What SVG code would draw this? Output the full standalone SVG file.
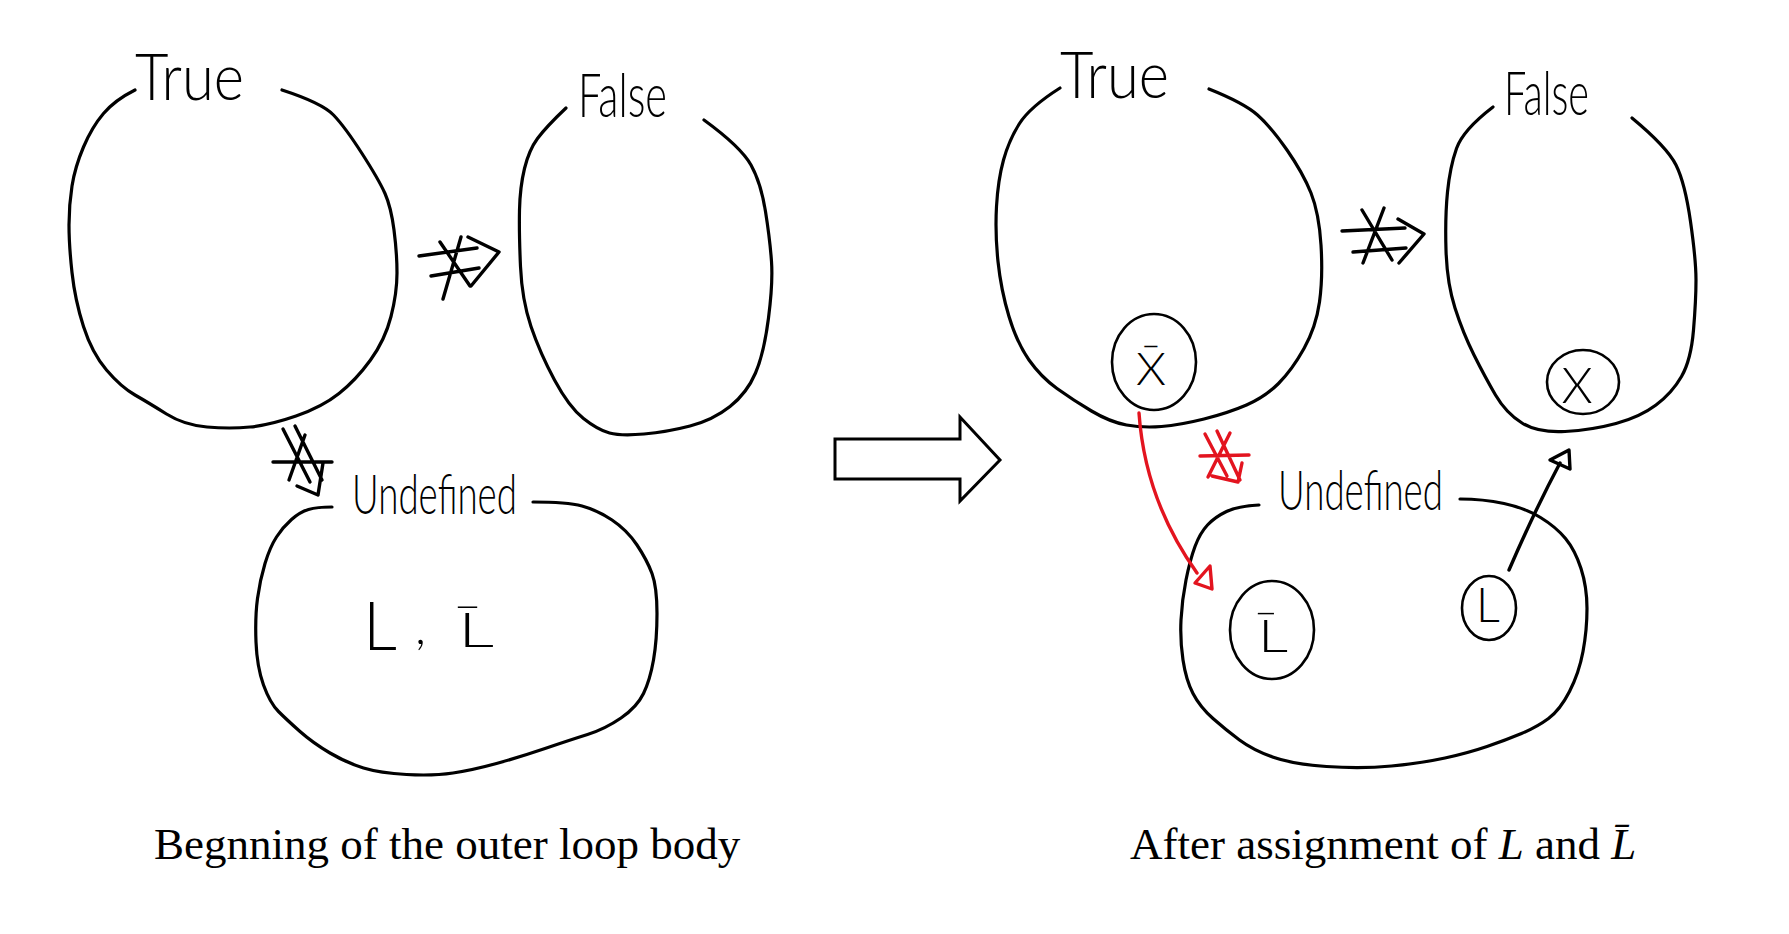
<svg xmlns="http://www.w3.org/2000/svg" width="1789" height="934" viewBox="0 0 1789 934">
<style>
.blob{fill:none;stroke:#000;stroke-width:3.2;stroke-linecap:round;stroke-linejoin:round}
.sym{fill:none;stroke:#000;stroke-width:3.4;stroke-linecap:round;stroke-linejoin:round}
.red{stroke:#e3141f}
.thin{stroke-width:2.6}
.hand{font-family:Lato,"Noto Sans","DejaVu Sans",sans-serif;font-weight:300;fill:#000}
.cap{font-family:"Liberation Serif","Times New Roman",serif;font-size:45px;fill:#000}
</style>
<rect width="1789" height="934" fill="#fff"/>

<g id="left-true">
<path class="blob" d="M135,90 Q115,100 103.5,113.5 Q92,127 83.5,147 Q75,167 72,186 Q69,205 69,225 Q69,245 72,272.5 Q75,300 83.5,326.5 Q92,353 106.5,370 Q121,387 135,395 Q149,403 166.5,414 Q184,425 207,427 Q230,429 250,427 Q270,425 296,416 Q322,407 339,393.5 Q356,380 370.5,360 Q385,340 391,316.5 Q397,293 397,273 Q397,253 394,230 Q391,207 385,193.5 Q379,180 362,153.5 Q345,127 333.5,115 Q322,103 282,90"/>
<text class="hand" x="135" y="100" font-size="66" textLength="109" lengthAdjust="spacingAndGlyphs">True</text>
</g>

<g id="left-false">
<path class="blob" d="M566,108 Q546,127 537.5,138.5 Q529,150 524.5,168.5 Q520,187 519.5,210 Q519,233 520.5,266.5 Q522,300 531,326.5 Q540,353 554.5,380 Q569,407 583.5,418.5 Q598,430 609.5,433 Q621,436 644,434 Q667,432 690,426 Q713,420 730,406.5 Q747,393 755.5,373 Q764,353 768.5,318 Q773,283 771.5,261.5 Q770,240 765.5,211.5 Q761,183 751,165 Q741,147 704,120"/>
<text class="hand" x="578" y="117" font-size="62" textLength="89" lengthAdjust="spacingAndGlyphs">False</text>
</g>

<g id="left-undefined">
<path class="blob" d="M332,507 Q317,507 308.5,509.5 Q300,512 291.5,519.5 Q283,527 276.5,537 Q270,547 265,563.5 Q260,580 257.5,598.5 Q255,617 256,642 Q257,667 263.5,685 Q270,703 278.5,711.5 Q287,720 300,731.5 Q313,743 330,753 Q347,763 363.5,768 Q380,773 406.5,774.5 Q433,776 453,773 Q473,770 496.5,763.5 Q520,757 545,748.5 Q570,740 587.5,734.5 Q605,729 621,718 Q637,707 643.5,693.5 Q650,680 653.5,660 Q657,640 657,613.5 Q657,587 652,573.5 Q647,560 637,545 Q627,530 612,520 Q597,510 582,506 Q567,502 533,502"/>
<text class="hand" x="352" y="514" font-size="56" textLength="165" lengthAdjust="spacingAndGlyphs">Undefined</text>
<text class="hand"><tspan x="363" y="650" font-size="67">L</tspan> <tspan x="415" y="644" font-size="50">,</tspan></text>
<text class="hand" x="458" y="647" font-size="48" textLength="36" lengthAdjust="spacingAndGlyphs">L̄</text>
</g>

<g id="right-true">
<path class="blob" d="M1060,88 Q1030,107 1019.5,123.5 Q1009,140 1003.5,160 Q998,180 996.5,206.5 Q995,233 998,261.5 Q1001,290 1009,316.5 Q1017,343 1029,360 Q1041,377 1057,388.5 Q1073,400 1091.5,411 Q1110,422 1126.5,425 Q1143,428 1161.5,426.5 Q1180,425 1204,419 Q1228,413 1246.5,405 Q1265,397 1278.5,383.5 Q1292,370 1304,348.5 Q1316,327 1319.5,302 Q1323,277 1321,245 Q1319,213 1311,193 Q1303,173 1287,150 Q1271,127 1257.5,115 Q1244,103 1209,89"/>
<text class="hand" x="1060" y="98" font-size="66" textLength="109" lengthAdjust="spacingAndGlyphs">True</text>
<g id="right-true-xbar">
<ellipse class="blob thin" cx="1154" cy="362" rx="42" ry="48"/>
<text class="hand" x="1136" y="385" font-size="45" textLength="30" lengthAdjust="spacingAndGlyphs">X̄</text>
</g>
</g>

<g id="right-false">
<path class="blob" d="M1493,107 Q1463,130 1456.5,148.5 Q1450,167 1447.5,192 Q1445,217 1446,250 Q1447,283 1455,308 Q1463,333 1474,355 Q1485,377 1495.5,395 Q1506,413 1522,423 Q1538,433 1565,431.5 Q1592,430 1616,423.5 Q1640,417 1656,405 Q1672,393 1681.5,376.5 Q1691,360 1693.5,330 Q1696,300 1696,280 Q1696,260 1690.5,221.5 Q1685,183 1676,165 Q1667,147 1632,118"/>
<text class="hand" x="1504" y="115" font-size="62" textLength="85" lengthAdjust="spacingAndGlyphs">False</text>
<g id="right-false-x">
<ellipse class="blob thin" cx="1583" cy="382" rx="36" ry="32"/>
<text class="hand" x="1577" y="403" font-size="50" text-anchor="middle">X</text>
</g>
</g>

<g id="right-undefined">
<path class="blob" d="M1259,505 Q1238,506 1226.5,511.5 Q1215,517 1207.5,525 Q1200,533 1195,546.5 Q1190,560 1186,580 Q1182,600 1181,620 Q1180,640 1183,660 Q1186,680 1193,693.5 Q1200,707 1213,718.5 Q1226,730 1239.5,740 Q1253,750 1272.5,757 Q1292,764 1326.5,766.5 Q1361,769 1391.5,766 Q1422,763 1445,758 Q1468,753 1487,746.5 Q1506,740 1521.5,733.5 Q1537,727 1548.5,718.5 Q1560,710 1569.5,691.5 Q1579,673 1583,651.5 Q1587,630 1587,608.5 Q1587,587 1581,568.5 Q1575,550 1565.5,538.5 Q1556,527 1540.5,517.5 Q1525,508 1504,503.5 Q1483,499 1460,499"/>
<text class="hand" x="1278" y="510" font-size="56" textLength="165" lengthAdjust="spacingAndGlyphs">Undefined</text>
<g id="right-undefined-lbar">
<ellipse class="blob thin" cx="1272" cy="630" rx="42" ry="49"/>
<text class="hand" x="1258" y="652" font-size="45" textLength="30" lengthAdjust="spacingAndGlyphs">L̄</text>
</g>
<g id="right-undefined-l">
<ellipse class="blob thin" cx="1489" cy="608" rx="27" ry="32"/>
<text class="hand" x="1476" y="622" font-size="47">L</text>
</g>
</g>

<g id="connectors">
<path class="sym" d="M419,256 L477,248 M431,276 L479,268 M461,237 L443,299 M440,242 L470,286 M468,237 L499,252 L471,286"/>
<path class="sym" d="M283,429 L310,482 M295,426 L322,480 M273,462 L332,462 M305,435 L289,480 M297,486 L318,495 L323,463"/>
<path class="sym" d="M1342,231 L1405,228 M1353,252 L1406,248 M1362,210 L1392,260 M1384,208 L1363,263 M1398,219 L1424,234 L1399,263"/>
<path class="sym red" d="M1200,456 L1249,455 M1205,434 L1227,476 M1217,431 L1240,480 M1230,433 L1208,477 M1212,476 L1238,482 L1242,463"/>
<path class="sym red" stroke-width="2.8" d="M1139,413 Q1145,500 1197,573"/>
<path class="sym red" stroke-width="3" d="M1210,566 L1195,583 L1212,589 Z"/>
<path class="sym" stroke-width="2.8" d="M1509,570 Q1535,510 1560,463"/>
<path class="sym" stroke-width="2.8" d="M1569,450 L1550,460 L1570,469 Z"/>
<path id="transition-arrow" fill="#fff" stroke="#000" stroke-width="3" d="M835,439 L960,439 L960,417 L1000,460 L960,501 L960,479 L835,479 Z"/>
</g>

<g id="captions">
<text class="cap" x="154" y="859">Begnning of the outer loop body</text>
<text class="cap" x="1130" y="859">After assignment of <tspan font-style="italic">L</tspan> and <tspan font-style="italic">L̄</tspan></text>
</g>
</svg>
